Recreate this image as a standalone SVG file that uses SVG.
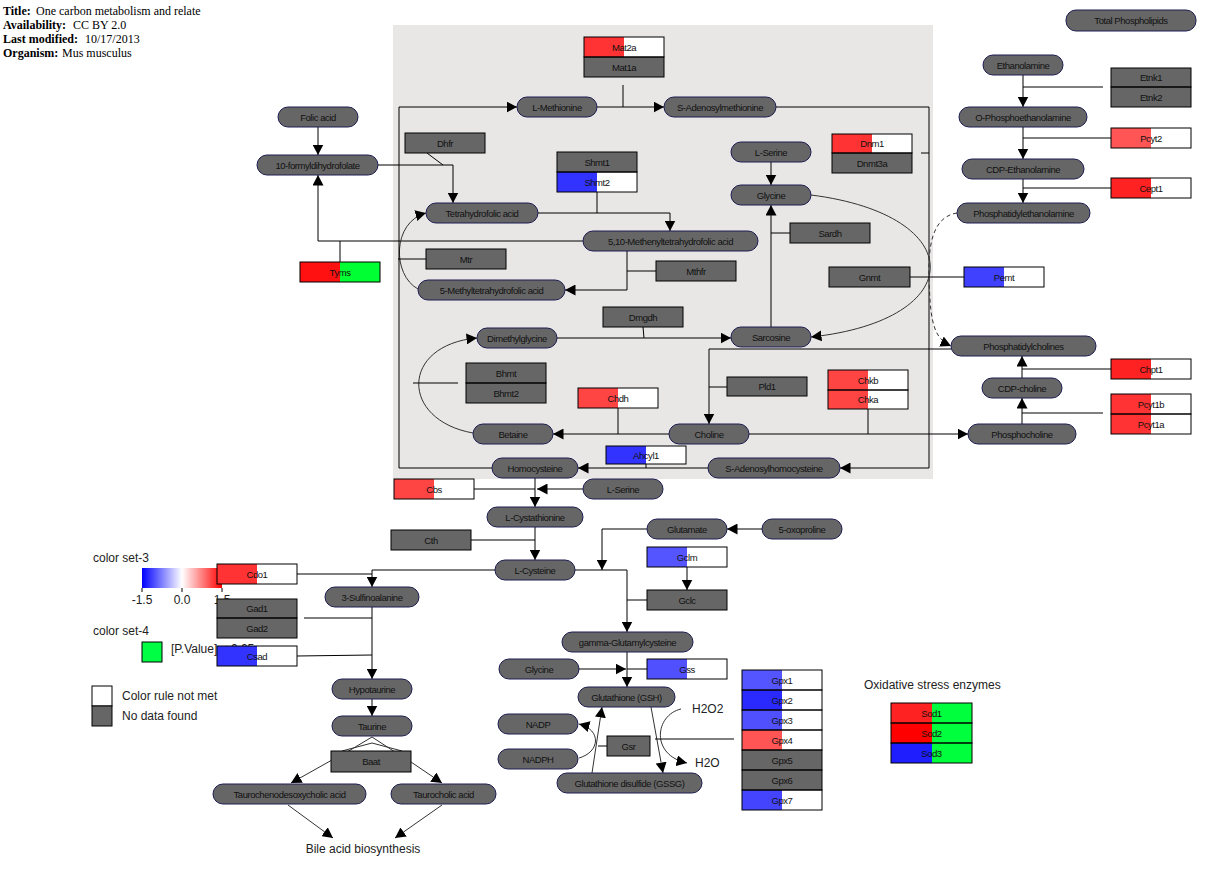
<svg xmlns="http://www.w3.org/2000/svg" width="1228" height="888" viewBox="0 0 1228 888">
<style>
.m rect{fill:#666;stroke:#1c1c50;stroke-width:1}
.e rect{stroke:none}
.e .o{fill:none;stroke:#000;stroke-width:1}
.g{fill:#666}
.w{fill:#fff}
text{font-family:"Liberation Sans",Arial,sans-serif}
.t{font-size:9.5px;letter-spacing:-0.45px;text-anchor:middle;fill:#111}
.c path{fill:none;stroke:#000;stroke-width:1}
.c .cv{stroke:#333}
.c .ar{marker-end:url(#ah)}
.c .ds{stroke-dasharray:4,3;stroke:#333}
.lg{font-size:12px;fill:#222}
.ti{font-family:"Liberation Serif","Times New Roman",serif;font-size:12px;fill:#000}
.tb{font-weight:bold}
</style>
<defs>
<marker id="ah" markerUnits="userSpaceOnUse" markerWidth="11" markerHeight="11" refX="10.5" refY="5.5" orient="auto">
<path d="M0,0 L10.5,5.5 L0,11 z" fill="#000"/>
</marker>
<linearGradient id="grad" x1="0" x2="1" y1="0" y2="0">
<stop offset="0" stop-color="#0000ff"/><stop offset="0.5" stop-color="#ffffff"/><stop offset="1" stop-color="#ff0000"/>
</linearGradient>
</defs>
<rect x="0" y="0" width="1228" height="888" fill="#fff"/>
<rect id="group-box" x="393" y="25" width="540" height="454" fill="#E9E6E6"/>

<g id="info">
<text class="ti" x="3" y="15"><tspan class="tb">Title:</tspan></text><text class="ti" x="36" y="15">One carbon metabolism and relate</text>
<text class="ti" x="3" y="29"><tspan class="tb">Availability:</tspan></text><text class="ti" x="73" y="29">CC BY 2.0</text>
<text class="ti" x="3" y="43"><tspan class="tb">Last modified:</tspan></text><text class="ti" x="85" y="43">10/17/2013</text>
<text class="ti" x="3" y="57"><tspan class="tb">Organism:</tspan></text><text class="ti" x="62" y="57">Mus musculus</text>
</g>

<g id="legend">
<text class="lg" x="93" y="562">color set-3</text>
<rect x="142" y="568" width="80" height="20" fill="url(#grad)"/>
<path d="M142,588 V592 M182,588 V592 M222,588 V592" stroke="#000" fill="none"/>
<text class="lg" x="142" y="604" text-anchor="middle">-1.5</text>
<text class="lg" x="182" y="604" text-anchor="middle">0.0</text>
<text class="lg" x="222" y="604" text-anchor="middle">1.5</text>
<text class="lg" x="93" y="635">color set-4</text>
<rect x="142" y="642" width="20" height="20" fill="#00FF44" stroke="#000"/>
<text class="lg" x="171" y="653">[P.Value] &lt; 0.05</text>
<rect x="92" y="686" width="20" height="20" fill="#fff" stroke="#000"/>
<rect x="92" y="706" width="20" height="20" fill="#666" stroke="#000"/>
<text class="lg" x="122" y="700">Color rule not met</text>
<text class="lg" x="122" y="720">No data found</text>
<text class="lg" x="864" y="689">Oxidative stress enzymes</text>
<text class="lg" x="363" y="853" text-anchor="middle">Bile acid biosynthesis</text>
<text class="lg" x="692" y="713" font-size="10.5">H2O2</text>
<text class="lg" x="695" y="767" font-size="10.5">H2O</text>
</g>

<g id="connectors" class="c">
<path class="ar" d="M318,127 V155"/>
<path d="M340,262 V241"/>
<path class="ar" d="M583,241 H318 V175"/>
<path class="ar" d="M378,165 H453 V203"/>
<path d="M427,153 L443,165"/>
<path class="ar" d="M538,213 H670 V231"/>
<path d="M597,192 V213"/>
<path class="ar" d="M627,251 V290 H565"/>
<path d="M656,271 H627"/>
<path class="ar cv" d="M418,289 C392,275 392,222 426,213"/>
<path d="M398,259 H426"/>
<path class="ar" d="M492,468 H399 V107 H517"/>
<path class="ar" d="M597,107 H664"/>
<path d="M623,85 V107"/>
<path class="ar" d="M776,107 H929 V468 H840"/>
<path d="M921,153 H929"/>
<path class="ar" d="M708,468 H578"/>
<path d="M646,464 V468"/>
<path class="ar" d="M771,162 V185"/>
<path class="ar" d="M771,327 V205"/>
<path d="M790,233 H771"/>
<path class="ar cv" d="M811,195 C970,215 970,320 811,337"/>
<path d="M910,277 H964"/>
<path class="ar ds" d="M957,213 C925,218 928,265 930,300 C932,330 938,340 951,346"/>
<path class="ar" d="M1023,75 V107"/>
<path d="M1023,87 H1103"/>
<path class="ar" d="M1023,127 V159"/>
<path d="M1023,138 H1111"/>
<path class="ar" d="M1023,179 V203"/>
<path d="M1023,188 H1111"/>
<path class="ar" d="M1022,424 V398"/>
<path d="M1022,413 H1103"/>
<path class="ar" d="M1022,378 V356"/>
<path d="M1022,369 H1111"/>
<path class="ar" d="M749,434 H968"/>
<path d="M868,409 V434"/>
<path class="ar" d="M951,349 H709 V424"/>
<path d="M727,387 H709"/>
<path class="ar" d="M669,434 H553"/>
<path d="M618,408 V434"/>
<path class="ar cv" d="M473,433 C400,420 400,345 477,338"/>
<path d="M413,383 H458"/>
<path class="ar" d="M557,338 H731"/>
<path d="M643,327 L644,338"/>
<path class="ar" d="M535,478 V507"/>
<path d="M474,489 H535"/>
<path class="ar" d="M583,489 H537"/>
<path class="ar" d="M535,527 V560"/>
<path d="M471,540 H535"/>
<path class="ar" d="M495,570 H372 V587"/>
<path d="M297,574 H372"/>
<path class="ar" d="M372,607 V679"/>
<path d="M304,618 H372"/>
<path d="M297,656 L372,655"/>
<path class="ar" d="M372,699 V716"/>
<path class="ar" d="M575,570 H627 V632"/>
<path d="M647,600 H627"/>
<path class="ar" d="M647,529 H602 V570"/>
<path class="ar" d="M762,529 H727"/>
<path class="ar" d="M687,567 V590"/>
<path class="ar" d="M627,652 V687"/>
<path class="ar" d="M579,669 H626"/>
<path d="M647,669 H627"/>
<path class="ar cv" d="M651,707 L663,773"/>
<path class="ar cv" d="M592,773 L602,707"/>
<path class="ar cv" d="M579,758 C600,752 602,730 579,724"/>
<path d="M607,746 H598"/>
<path class="ar cv" d="M681,709 C655,715 650,755 687,763"/>
<path d="M655,739 H734"/>
<path class="cv" d="M372,737 L347,752 M372,737 L395,752 M342,751 L372,743 L402,751"/>
<path class="ar cv" d="M332,760 L291,783"/>
<path class="ar cv" d="M411,762 L442,783"/>
<path class="ar cv" d="M288,805 L333,838"/>
<path class="ar cv" d="M442,805 L395,838"/>
</g>

<g id="metabolites">
<g id="n-folic" class="m"><rect x="278" y="107" width="80" height="20" rx="10"/><text class="t" x="318" y="120.5">Folic acid</text></g>
<g id="n-formyl" class="m"><rect x="257" y="155" width="121" height="20" rx="10"/><text class="t" x="317.5" y="168.5">10-formyldihydrofolate</text></g>
<g id="n-thf" class="m"><rect x="426" y="203" width="112" height="20" rx="10"/><text class="t" x="482" y="216.5">Tetrahydrofolic acid</text></g>
<g id="n-met" class="m"><rect x="517" y="97" width="80" height="20" rx="10"/><text class="t" x="557" y="110.5">L-Methionine</text></g>
<g id="n-sam" class="m"><rect x="664" y="97" width="112" height="20" rx="10"/><text class="t" x="720" y="110.5">S-Adenosylmethionine</text></g>
<g id="n-methenyl" class="m"><rect x="583" y="231" width="175" height="20" rx="10"/><text class="t" x="670.5" y="244.5">5,10-Methenyltetrahydrofolic acid</text></g>
<g id="n-mthf" class="m"><rect x="418" y="280" width="147" height="20" rx="10"/><text class="t" x="491.5" y="293.5">5-Methyltetrahydrofolic acid</text></g>
<g id="n-serine1" class="m"><rect x="731" y="142" width="80" height="20" rx="10"/><text class="t" x="771" y="155.5">L-Serine</text></g>
<g id="n-glycine1" class="m"><rect x="731" y="185" width="80" height="20" rx="10"/><text class="t" x="771" y="198.5">Glycine</text></g>
<g id="n-dmg" class="m"><rect x="477" y="328" width="80" height="20" rx="10"/><text class="t" x="517" y="341.5">Dimethylglycine</text></g>
<g id="n-sarc" class="m"><rect x="731" y="327" width="80" height="20" rx="10"/><text class="t" x="771" y="340.5">Sarcosine</text></g>
<g id="n-betaine" class="m"><rect x="473" y="424" width="80" height="20" rx="10"/><text class="t" x="513" y="437.5">Betaine</text></g>
<g id="n-choline" class="m"><rect x="669" y="424" width="80" height="20" rx="10"/><text class="t" x="709" y="437.5">Choline</text></g>
<g id="n-hcy" class="m"><rect x="492" y="458" width="86" height="20" rx="10"/><text class="t" x="535" y="471.5">Homocysteine</text></g>
<g id="n-sah" class="m"><rect x="708" y="458" width="132" height="20" rx="10"/><text class="t" x="774" y="471.5">S-Adenosylhomocysteine</text></g>
<g id="n-serine2" class="m"><rect x="583" y="479" width="80" height="20" rx="10"/><text class="t" x="623" y="492.5">L-Serine</text></g>
<g id="n-cysta" class="m"><rect x="487" y="507" width="96" height="20" rx="10"/><text class="t" x="535" y="520.5">L-Cystathionine</text></g>
<g id="n-cys" class="m"><rect x="495" y="560" width="80" height="20" rx="10"/><text class="t" x="535" y="573.5">L-Cysteine</text></g>
<g id="n-glu" class="m"><rect x="647" y="519" width="80" height="20" rx="10"/><text class="t" x="687" y="532.5">Glutamate</text></g>
<g id="n-oxo" class="m"><rect x="762" y="519" width="80" height="20" rx="10"/><text class="t" x="802" y="532.5">5-oxoproline</text></g>
<g id="n-ggc" class="m"><rect x="562" y="632" width="131" height="20" rx="10"/><text class="t" x="627.5" y="645.5">gamma-Glutamylcysteine</text></g>
<g id="n-glycine2" class="m"><rect x="499" y="659" width="80" height="20" rx="10"/><text class="t" x="539" y="672.5">Glycine</text></g>
<g id="n-gsh" class="m"><rect x="578" y="687" width="97" height="20" rx="10"/><text class="t" x="626.5" y="700.5">Glutathione (GSH)</text></g>
<g id="n-nadp" class="m"><rect x="498" y="714" width="80" height="20" rx="10"/><text class="t" x="538" y="727.5">NADP</text></g>
<g id="n-nadph" class="m"><rect x="498" y="749" width="80" height="20" rx="10"/><text class="t" x="538" y="762.5">NADPH</text></g>
<g id="n-gssg" class="m"><rect x="557" y="773" width="145" height="20" rx="10"/><text class="t" x="629.5" y="786.5">Glutathione disulfide (GSSG)</text></g>
<g id="n-sulfino" class="m"><rect x="325" y="587" width="94" height="20" rx="10"/><text class="t" x="372" y="600.5">3-Sulfinoalanine</text></g>
<g id="n-hypotaurine" class="m"><rect x="332" y="679" width="80" height="20" rx="10"/><text class="t" x="372" y="692.5">Hypotaurine</text></g>
<g id="n-taurine" class="m"><rect x="332" y="716" width="80" height="20" rx="10"/><text class="t" x="372" y="729.5">Taurine</text></g>
<g id="n-tcdca" class="m"><rect x="213" y="784" width="153" height="20" rx="10"/><text class="t" x="289.5" y="797.5">Taurochenodesoxycholic acid</text></g>
<g id="n-tca" class="m"><rect x="391" y="784" width="105" height="20" rx="10"/><text class="t" x="443.5" y="797.5">Taurocholic acid</text></g>
<g id="n-totalpl" class="m"><rect x="1066" y="10" width="130" height="21" rx="10"/><text class="t" x="1131" y="24">Total Phospholipids</text></g>
<g id="n-etn" class="m"><rect x="983" y="55" width="80" height="20" rx="10"/><text class="t" x="1023" y="68.5">Ethanolamine</text></g>
<g id="n-opetn" class="m"><rect x="959" y="107" width="128" height="20" rx="10"/><text class="t" x="1023" y="120.5">O-Phosphoethanolamine</text></g>
<g id="n-cdpe" class="m"><rect x="962" y="159" width="122" height="20" rx="10"/><text class="t" x="1023" y="172.5">CDP-Ethanolamine</text></g>
<g id="n-pe" class="m"><rect x="957" y="203" width="133" height="20" rx="10"/><text class="t" x="1023.5" y="216.5">Phosphatidylethanolamine</text></g>
<g id="n-pc" class="m"><rect x="951" y="336" width="145" height="20" rx="10"/><text class="t" x="1023.5" y="349.5">Phosphatidylcholines</text></g>
<g id="n-cdpc" class="m"><rect x="982" y="378" width="80" height="20" rx="10"/><text class="t" x="1022" y="391.5">CDP-choline</text></g>
<g id="n-pcho" class="m"><rect x="968" y="424" width="108" height="20" rx="10"/><text class="t" x="1022" y="437.5">Phosphocholine</text></g>
</g>

<g id="enzymes">
<g id="e-mat" class="e"><rect class="w" x="584" y="37" width="80" height="20"/><rect x="584" y="37" width="40" height="20" fill="#FF3333"/><rect class="g" x="584" y="57" width="80" height="20"/><rect class="o" x="584" y="37" width="80" height="20"/><rect class="o" x="584" y="57" width="80" height="20"/><text class="t" x="624" y="50.5">Mat2a</text><text class="t" x="624" y="70.5">Mat1a</text></g>
<g id="e-dhfr" class="e"><rect class="g" x="405" y="133" width="80" height="20"/><rect class="o" x="405" y="133" width="80" height="20"/><text class="t" x="445" y="146.5">Dhfr</text></g>
<g id="e-shmt" class="e"><rect class="g" x="557" y="152" width="80" height="20"/><rect class="w" x="557" y="172" width="80" height="20"/><rect x="557" y="172" width="40" height="20" fill="#3333FF"/><rect class="o" x="557" y="152" width="80" height="20"/><rect class="o" x="557" y="172" width="80" height="20"/><text class="t" x="597" y="165.5">Shmt1</text><text class="t" x="597" y="185.5">Shmt2</text></g>
<g id="e-dnmt" class="e"><rect class="w" x="832" y="134" width="80" height="19"/><rect x="832" y="134" width="40" height="19" fill="#FF3333"/><rect class="g" x="832" y="153" width="80" height="20"/><rect class="o" x="832" y="134" width="80" height="19"/><rect class="o" x="832" y="153" width="80" height="20"/><text class="t" x="872" y="147">Dnm1</text><text class="t" x="872" y="166.5">Dnmt3a</text></g>
<g id="e-sardh" class="e"><rect class="g" x="790" y="223" width="80" height="20"/><rect class="o" x="790" y="223" width="80" height="20"/><text class="t" x="830" y="236.5">Sardh</text></g>
<g id="e-mtr" class="e"><rect class="g" x="426" y="249" width="80" height="20"/><rect class="o" x="426" y="249" width="80" height="20"/><text class="t" x="466" y="262.5">Mtr</text></g>
<g id="e-mthfr" class="e"><rect class="g" x="656" y="261" width="80" height="20"/><rect class="o" x="656" y="261" width="80" height="20"/><text class="t" x="696" y="274.5">Mthfr</text></g>
<g id="e-tyms" class="e"><rect x="300" y="262" width="40" height="20" fill="#FF1111"/><rect x="340" y="262" width="40" height="20" fill="#00FF33"/><rect class="o" x="300" y="262" width="80" height="20"/><text class="t" x="340" y="275.5">Tyms</text></g>
<g id="e-gnmt" class="e"><rect class="g" x="829" y="267" width="81" height="20"/><rect class="o" x="829" y="267" width="81" height="20"/><text class="t" x="869.5" y="280.5">Gnmt</text></g>
<g id="e-pemt" class="e"><rect class="w" x="964" y="267" width="80" height="20"/><rect x="964" y="267" width="40" height="20" fill="#4040FF"/><rect class="o" x="964" y="267" width="80" height="20"/><text class="t" x="1004" y="280.5">Pemt</text></g>
<g id="e-etnk" class="e"><rect class="g" x="1111" y="68" width="80" height="39"/><rect class="o" x="1111" y="68" width="80" height="19"/><rect class="o" x="1111" y="87" width="80" height="20"/><text class="t" x="1151" y="81">Etnk1</text><text class="t" x="1151" y="100.5">Etnk2</text></g>
<g id="e-pcyt2" class="e"><rect class="w" x="1111" y="128" width="80" height="20"/><rect x="1111" y="128" width="40" height="20" fill="#FF5555"/><rect class="o" x="1111" y="128" width="80" height="20"/><text class="t" x="1151" y="141.5">Pcyt2</text></g>
<g id="e-cept1" class="e"><rect class="w" x="1111" y="178" width="80" height="20"/><rect x="1111" y="178" width="40" height="20" fill="#FF2222"/><rect class="o" x="1111" y="178" width="80" height="20"/><text class="t" x="1151" y="191.5">Cept1</text></g>
<g id="e-chpt1" class="e"><rect class="w" x="1111" y="359" width="80" height="20"/><rect x="1111" y="359" width="40" height="20" fill="#FF2222"/><rect class="o" x="1111" y="359" width="80" height="20"/><text class="t" x="1151" y="372.5">Chpt1</text></g>
<g id="e-pcyt1" class="e"><rect class="w" x="1111" y="394" width="80" height="40"/><rect x="1111" y="394" width="40" height="40" fill="#FF3333"/><rect class="o" x="1111" y="394" width="80" height="20"/><rect class="o" x="1111" y="414" width="80" height="20"/><text class="t" x="1151" y="407.5">Pcyt1b</text><text class="t" x="1151" y="427.5">Pcyt1a</text></g>
<g id="e-dmgdh" class="e"><rect class="g" x="603" y="307" width="80" height="20"/><rect class="o" x="603" y="307" width="80" height="20"/><text class="t" x="643" y="320.5">Dmgdh</text></g>
<g id="e-bhmt" class="e"><rect class="g" x="466" y="363" width="80" height="40"/><rect class="o" x="466" y="363" width="80" height="20"/><rect class="o" x="466" y="383" width="80" height="20"/><text class="t" x="506" y="376.5">Bhmt</text><text class="t" x="506" y="396.5">Bhmt2</text></g>
<g id="e-pld1" class="e"><rect class="g" x="727" y="377" width="80" height="19"/><rect class="o" x="727" y="377" width="80" height="19"/><text class="t" x="767" y="390">Pld1</text></g>
<g id="e-chk" class="e"><rect class="w" x="828" y="370" width="80" height="39"/><rect x="828" y="370" width="40" height="39" fill="#FF4444"/><rect class="o" x="828" y="370" width="80" height="20"/><rect class="o" x="828" y="390" width="80" height="19"/><text class="t" x="868" y="383.5">Chkb</text><text class="t" x="868" y="403">Chka</text></g>
<g id="e-chdh" class="e"><rect class="w" x="578" y="388" width="80" height="20"/><rect x="578" y="388" width="40" height="20" fill="#FF4444"/><rect class="o" x="578" y="388" width="80" height="20"/><text class="t" x="618" y="401.5">Chdh</text></g>
<g id="e-ahcyl1" class="e"><rect class="w" x="606" y="446" width="80" height="18"/><rect x="606" y="446" width="40" height="18" fill="#3333FF"/><rect class="o" x="606" y="446" width="80" height="18"/><text class="t" x="646" y="458.5">Ahcyl1</text></g>
<g id="e-cbs" class="e"><rect class="w" x="394" y="479" width="80" height="20"/><rect x="394" y="479" width="40" height="20" fill="#FF4444"/><rect class="o" x="394" y="479" width="80" height="20"/><text class="t" x="434" y="492.5">Cbs</text></g>
<g id="e-cth" class="e"><rect class="g" x="391" y="530" width="80" height="20"/><rect class="o" x="391" y="530" width="80" height="20"/><text class="t" x="431" y="543.5">Cth</text></g>
<g id="e-cdo1" class="e"><rect class="w" x="217" y="564" width="80" height="20"/><rect x="217" y="564" width="40" height="20" fill="#FF3333"/><rect class="o" x="217" y="564" width="80" height="20"/><text class="t" x="257" y="577.5">Cdo1</text></g>
<g id="e-gad" class="e"><rect class="g" x="217" y="599" width="80" height="39"/><rect class="o" x="217" y="599" width="80" height="19"/><rect class="o" x="217" y="618" width="80" height="20"/><text class="t" x="257" y="612">Gad1</text><text class="t" x="257" y="631.5">Gad2</text></g>
<g id="e-csad" class="e"><rect class="w" x="217" y="646" width="80" height="20"/><rect x="217" y="646" width="40" height="20" fill="#3333FF"/><rect class="o" x="217" y="646" width="80" height="20"/><text class="t" x="257" y="659.5">Csad</text></g>
<g id="e-gclm" class="e"><rect class="w" x="647" y="547" width="80" height="20"/><rect x="647" y="547" width="40" height="20" fill="#5555FF"/><rect class="o" x="647" y="547" width="80" height="20"/><text class="t" x="687" y="560.5">Gclm</text></g>
<g id="e-gclc" class="e"><rect class="g" x="647" y="590" width="80" height="20"/><rect class="o" x="647" y="590" width="80" height="20"/><text class="t" x="687" y="603.5">Gclc</text></g>
<g id="e-gss" class="e"><rect class="w" x="647" y="659" width="80" height="20"/><rect x="647" y="659" width="40" height="20" fill="#5050FF"/><rect class="o" x="647" y="659" width="80" height="20"/><text class="t" x="687" y="672.5">Gss</text></g>
<g id="e-gsr" class="e"><rect class="g" x="607" y="736" width="43" height="20"/><rect class="o" x="607" y="736" width="43" height="20"/><text class="t" x="628.5" y="749.5">Gsr</text></g>
<g id="e-baat" class="e"><rect class="g" x="331" y="751" width="80" height="21"/><rect class="o" x="331" y="751" width="80" height="21"/><text class="t" x="371" y="765">Baat</text></g>
<g id="e-gpx" class="e">
<rect class="w" x="742" y="670" width="80" height="140"/>
<rect x="742" y="670" width="40" height="20" fill="#5555FF"/>
<rect x="742" y="690" width="40" height="20" fill="#2A2AFF"/>
<rect x="742" y="710" width="40" height="20" fill="#5050FF"/>
<rect x="742" y="730" width="40" height="20" fill="#FF5555"/>
<rect class="g" x="742" y="750" width="80" height="40"/>
<rect x="742" y="790" width="40" height="20" fill="#4444FF"/>
<rect class="o" x="742" y="670" width="80" height="20"/><rect class="o" x="742" y="690" width="80" height="20"/><rect class="o" x="742" y="710" width="80" height="20"/><rect class="o" x="742" y="730" width="80" height="20"/><rect class="o" x="742" y="750" width="80" height="20"/><rect class="o" x="742" y="770" width="80" height="20"/><rect class="o" x="742" y="790" width="80" height="20"/>
<text class="t" x="782" y="683.5">Gpx1</text><text class="t" x="782" y="703.5">Gpx2</text><text class="t" x="782" y="723.5">Gpx3</text><text class="t" x="782" y="743.5">Gpx4</text><text class="t" x="782" y="763.5">Gpx5</text><text class="t" x="782" y="783.5">Gpx6</text><text class="t" x="782" y="803.5">Gpx7</text>
</g>
<g id="e-sod" class="e">
<rect x="932" y="703" width="40" height="60" fill="#00FF3C"/>
<rect x="891" y="703" width="41" height="20" fill="#FF2222"/>
<rect x="891" y="723" width="41" height="20" fill="#FF0000"/>
<rect x="891" y="743" width="41" height="20" fill="#1E1EFF"/>
<rect class="o" x="891" y="703" width="81" height="20"/><rect class="o" x="891" y="723" width="81" height="20"/><rect class="o" x="891" y="743" width="81" height="20"/>
<text class="t" x="931.5" y="716.5">Sod1</text><text class="t" x="931.5" y="736.5">Sod2</text><text class="t" x="931.5" y="756.5">Sod3</text>
</g>
</g>
</svg>
